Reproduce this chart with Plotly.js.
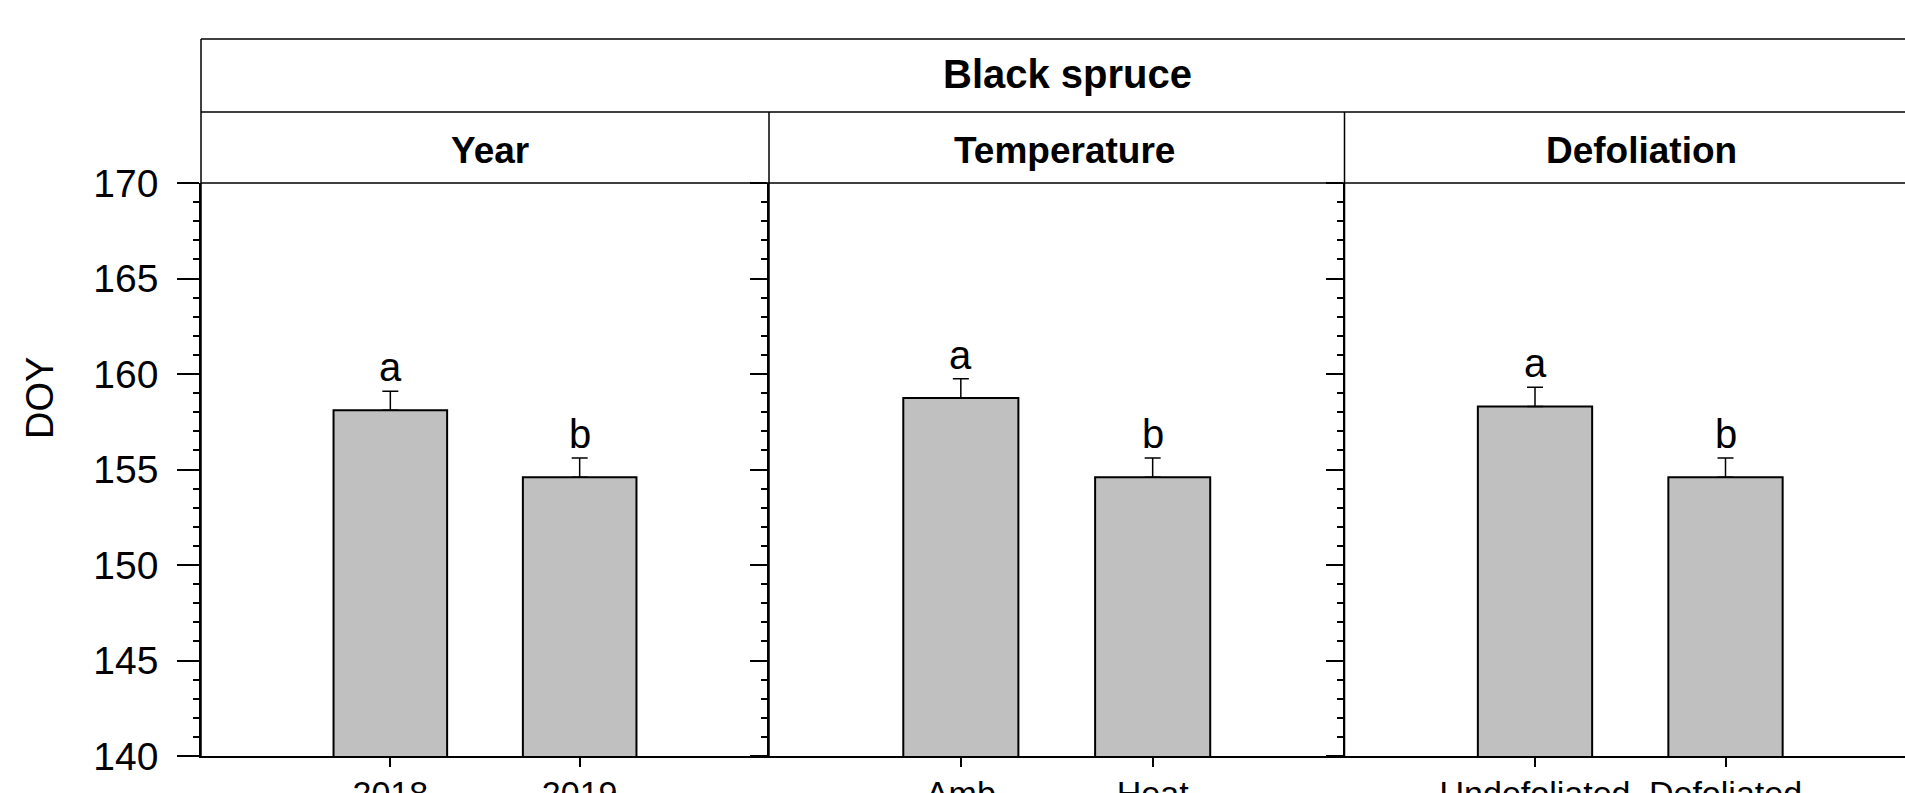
<!DOCTYPE html>
<html>
<head>
<meta charset="utf-8">
<script src="https://cdn.plot.ly/plotly-3.0.1.min.js"></script>
<style>
  html, body { margin: 0; padding: 0; overflow: hidden; background: #ffffff; }
  #chart { width: 1940px; height: 850px; }
</style>
</head>
<body>
<div id="chart"></div>
<script>
// ---------- data ----------
const mainTitle = "Black spruce";
const yTitle = "DOY";
const panelTitles = ["Year", "Temperature", "Defoliation"];
const catsYear = ["2018", "2019"];
const catsTemp = ["Amb", "Heat"];
const catsDefol = ["Undefoliated", "Defoliated"];
const doyYear = [158.1, 154.6];
const doyTemp = [158.75, 154.6];
const doyDefol = [158.3, 154.6];
const seYear = [1.0, 1.0];
const seTemp = [1.0, 1.0];
const seDefol = [1.0, 1.0];
const lettersYear = ["a", "b"];
const lettersTemp = ["a", "b"];
const lettersDefol = ["a", "b"];
const yTickVals = [140, 145, 150, 155, 160, 165, 170];

// ---------- layout constants ----------
const FONT = "Liberation Sans, Arial, Helvetica, sans-serif";
const W = 1940, H = 850;
const M = { l: 201, r: 24, t: 183, b: 94 };
const plotW = W - M.l - M.r, plotH = H - M.t - M.b;
const xp = px => (px - M.l) / plotW;
const yp = py => (H - M.b - py) / plotH;
const div1 = xp(769), div2 = xp(1344.5);
const domains = [[0, div1], [div1, div2], [div2, 1]];

const panels = [
  { cats: catsYear, vals: doyYear, se: seYear, letters: lettersYear },
  { cats: catsTemp, vals: doyTemp, se: seTemp, letters: lettersTemp },
  { cats: catsDefol, vals: doyDefol, se: seDefol, letters: lettersDefol }
];

const traces = [];
const annotations = [];
const layout = {
  width: W, height: H,
  margin: M,
  paper_bgcolor: "#ffffff",
  plot_bgcolor: "#ffffff",
  showlegend: false,
  font: { family: FONT, color: "#000000" },
  bargap: 0.4
};

panels.forEach((p, i) => {
  const n = i === 0 ? "" : String(i + 1);
  const xa = "x" + n, ya = "y" + n;
  traces.push({
    type: "bar",
    x: p.cats, y: p.vals,
    xaxis: xa, yaxis: ya,
    width: 0.6,
    marker: { color: "#c0c0c0", line: { color: "#000000", width: 2 } },
    error_y: {
      type: "data", symmetric: false, array: p.se, arrayminus: p.se.map(() => 0),
      color: "#000000", thickness: 1.5, width: 8
    },
    hoverinfo: "x+y"
  });
  p.cats.forEach((c, j) => {
    annotations.push({
      xref: xa, yref: ya, x: j, y: p.vals[j] + p.se[j],
      text: p.letters[j], showarrow: false, yanchor: "bottom", yshift: 0,
      font: { family: FONT, size: 40, color: "#000000" }
    });
  });
  layout["xaxis" + n] = {
    domain: domains[i], anchor: ya, type: "category",
    range: [-1, 2], fixedrange: true,
    showline: true, linecolor: "#000000", linewidth: 1.5,
    ticks: "outside", ticklen: 9, tickwidth: 1.5, tickcolor: "#000000",
    tickangle: 0, ticklabelstandoff: -3,
    tickfont: { family: FONT, size: 34, color: "#000000" },
    showgrid: false, zeroline: false
  };
  layout["yaxis" + n] = {
    domain: [0, 1], anchor: xa, range: [140, 170], fixedrange: true,
    tickmode: "array", tickvals: yTickVals,
    showline: true, linecolor: "#000000", linewidth: 1.5,
    ticks: "outside", ticklen: i === 0 ? 22 : 17, tickwidth: 1.5, tickcolor: "#000000",
    minor: { ticks: "outside", ticklen: 6, dtick: 1, tickwidth: 1.5, tickcolor: "#000000", showgrid: false },
    showticklabels: i === 0,
    ticklabelstandoff: 11,
    tickfont: { family: FONT, size: 39, color: "#000000" },
    showgrid: false, zeroline: false
  };
});

// y axis title (centered on the whole framed block, as in the reference)
annotations.push({
  xref: "paper", yref: "paper", x: xp(40), y: yp(398), text: yTitle,
  showarrow: false, textangle: -90, xanchor: "center", yanchor: "middle",
  font: { family: FONT, size: 38, color: "#000000" }
});

// header text
annotations.push({
  xref: "paper", yref: "paper", x: xp(1067), y: yp(74), text: "<b>" + mainTitle + "</b>",
  showarrow: false, xanchor: "center", yanchor: "middle",
  font: { family: FONT, size: 40, color: "#000000" }
});
const subCenters = [490, 1064, 1641];
panelTitles.forEach((t, i) => {
  annotations.push({
    xref: "paper", yref: "paper", x: xp(subCenters[i]), y: yp(150), text: "<b>" + t + "</b>",
    showarrow: false, xanchor: "center", yanchor: "middle",
    font: { family: FONT, size: 37, color: "#000000" }
  });
});
layout.annotations = annotations;

// header box lines
const line = { color: "#000000", width: 1.5 };
layout.shapes = [
  { type: "line", xref: "paper", yref: "paper", x0: 0, x1: 1.05, y0: yp(39), y1: yp(39), line },
  { type: "line", xref: "paper", yref: "paper", x0: 0, x1: 1.05, y0: yp(112), y1: yp(112), line },
  { type: "line", xref: "paper", yref: "paper", x0: 0, x1: 1.05, y0: 1, y1: 1, line },
  { type: "line", xref: "paper", yref: "paper", x0: 0, x1: 0, y0: 0, y1: yp(39), line },
  { type: "line", xref: "paper", yref: "paper", x0: div1, x1: div1, y0: 0, y1: yp(112), line },
  { type: "line", xref: "paper", yref: "paper", x0: div2, x1: div2, y0: 0, y1: yp(112), line }
];

Plotly.newPlot("chart", traces, layout, { displayModeBar: false });
</script>
</body>
</html>
